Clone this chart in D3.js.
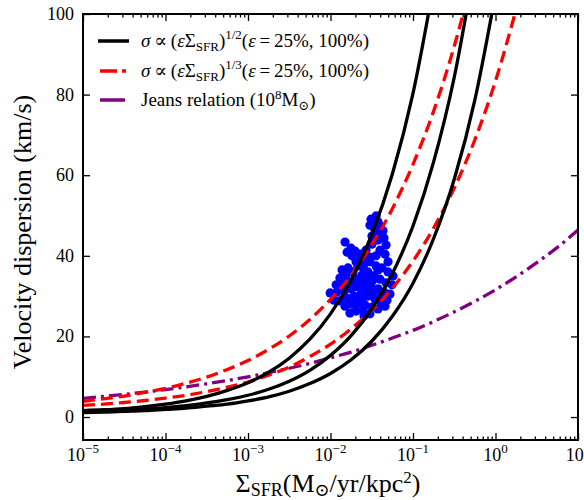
<!DOCTYPE html>
<html><head><meta charset="utf-8">
<script src="https://cdn.jsdelivr.net/npm/d3@7"></script>
<style>body{margin:0;background:#fff}svg{display:block}text{font-family:"Liberation Serif","DejaVu Serif",serif;fill:#000}</style>
</head><body><svg id="c" width="584" height="500" font-family="Liberation Serif, DejaVu Serif, serif"></svg>
<script>
// ---- data ----
const sfrGrid = [1e-5,1.778e-5,3.162e-5,5.623e-5,1e-4,1.778e-4,3.162e-4,5.623e-4,1e-3,1.778e-3,3.162e-3,5.623e-3,0.01,0.01778,0.03162,0.05623,0.1,0.1778,0.3162,0.5623,1,1.778,3.162,5.623,10];
const black1 = [1.6,1.8,2.1,2.6,3.2,4.0,5.1,6.6,8.5,11.1,14.6,19.3,25.6,34.0,45.3,60.3,80.3,107.1];
const black2 = [1.3,1.5,1.7,2.0,2.3,2.8,3.5,4.3,5.4,6.9,8.9,11.6,15.3,20.2,26.8,35.6,47.4,63.3,84.3,112.5];
const black3 = [1.1,1.2,1.4,1.6,1.9,2.2,2.7,3.2,4.0,5.0,6.4,8.3,10.8,14.2,18.8,25.0,33.2,44.3,59.0,78.7,105.0];
const red1 = [3.9,4.5,5.2,6.1,7.1,8.4,9.9,11.8,14.0,16.8,20.1,24.2,29.2,35.2,42.7,51.7,62.7,75.9,92.0,111.4];
const red2 = [2.9,3.2,3.6,4.1,4.7,5.4,6.3,7.4,8.7,10.4,12.4,15.0,18.1,21.9,26.4,32.0,38.7,46.9,56.8,68.8,83.4,101.1];
const jeans = [4.64,5.11,5.62,6.19,6.81,7.49,8.25,9.08,9.99,11.0,12.1,13.3,14.7,16.1,17.8,19.6,21.5,23.7,26.1,28.7,31.6,34.8,38.3,42.1,46.4];
const obsSFR = [0.0357,0.0310,0.0377,0.0301,0.0337,0.0398,0.0366,0.0433,0.0318,0.0150,
 0.0177,0.0159,0.0198,0.0182,0.0228,0.0269,0.0318,0.0377,0.0445,0.0471,0.0398,0.0301,0.0248,0.0357,0.0458,0.0498,0.0204,
 0.0138,0.0163,0.0130,0.0154,0.0188,0.0215,0.0255,0.0301,0.0357,0.0421,0.0498,0.0573,
 0.0117,0.0142,0.0172,0.0204,0.0241,0.0285,0.0337,0.0398,0.0471,0.0556,
 0.0099,0.0120,0.0146,0.0177,0.0215,0.0262,0.0310,0.0377,0.0445,0.0526,
 0.0110,0.0130,0.0159,0.0193,0.0234,0.0285,0.0346,0.0409,0.0484,
 0.0150,0.0182,0.0215,0.0262,0.0318,0.0377,0.0204,0.0248,0.0301,0.0172,0.0458,0.0255,
 0.0234,0.0269,0.0327,0.0198,0.0241,0.0337,0.0421,0.0285,0.0377,0.0255];
const obsSigma = [49.9,49.1,48.4,47.6,46.9,47.4,45.7,46.2,44.9,43.4,
 41.9,40.9,41.2,40.0,40.4,41.4,42.9,43.9,44.4,42.7,41.4,39.7,39.2,40.0,40.4,38.5,38.5,
 36.5,37.0,34.5,35.0,36.0,37.5,38.0,38.5,37.5,37.0,36.0,35.0,
 32.8,33.0,33.5,34.2,35.2,36.0,35.0,34.2,33.3,32.8,
 30.8,31.0,31.3,31.8,32.3,33.0,32.5,31.8,31.0,30.5,
 29.0,28.8,29.5,30.0,30.5,30.0,29.3,28.5,29.0,
 27.5,28.0,28.3,27.8,27.3,26.8,26.3,26.6,25.6,25.8,27.5,25.1,
 33.7,31.5,34.0,32.3,29.0,31.0,30.0,34.5,36.5,36.5];
const xMajor = [1e-5,1e-4,1e-3,1e-2,1e-1,1,10];
const xExponents = ["\u22125","\u22124","\u22123","\u22122","\u22121","0","1"];
const yTicks = [0,20,40,60,80,100];

// ---- layout ----
const FONT='"Liberation Serif","DejaVu Serif",serif';
const L=83,R=578,T=14,B=440;
const svg=d3.select("#c");
const x=d3.scaleLog().domain([1e-5,10]).range([L,R]);
const y=d3.scaleLinear().domain([-5.7,100]).range([B,T]);

svg.append("clipPath").attr("id","clip").append("rect").attr("x",L).attr("y",T).attr("width",R-L).attr("height",B-T);
const plot=svg.append("g").attr("clip-path","url(#clip)");

// points
plot.selectAll("circle").data(obsSFR.map((s,i)=>[s,obsSigma[i]])).enter().append("circle")
 .attr("cx",d=>x(d[0])).attr("cy",d=>y(d[1])).attr("r",4.6).attr("fill","#0000ff");

const line=d3.line().x(d=>x(d[0])).y(d=>y(d[1])).curve(d3.curveMonotoneX);
function curve(vals,color,dash){
  plot.append("path").attr("d",line(vals.map((v,i)=>[sfrGrid[i],v])))
   .attr("fill","none").attr("stroke",color).attr("stroke-width",3.3)
   .attr("stroke-dasharray",dash||null);
}
curve(jeans,"#800080","13,5,3,5");
curve(red1,"#ff0000","12,6");
curve(red2,"#ff0000","12,6");
curve(black1,"#000");
curve(black2,"#000");
curve(black3,"#000");

// axes
const minor=[];
for(let e=-5;e<1;e++) for(let k=2;k<10;k++) minor.push(k*Math.pow(10,e));
function axisG(){return svg.append("g").attr("class","ax");}
axisG().attr("transform",`translate(0,${B})`).call(d3.axisBottom(x).tickValues(xMajor).tickSize(-7).tickFormat(""));
axisG().attr("transform",`translate(0,${B})`).call(d3.axisBottom(x).tickValues(minor).tickSize(-3.5).tickFormat(""));
axisG().attr("transform",`translate(0,${T})`).call(d3.axisTop(x).tickValues(xMajor).tickSize(-7).tickFormat(""));
axisG().attr("transform",`translate(0,${T})`).call(d3.axisTop(x).tickValues(minor).tickSize(-3.5).tickFormat(""));
axisG().attr("transform",`translate(${L},0)`).call(d3.axisLeft(y).tickValues(yTicks).tickSize(-7).tickFormat(""));
axisG().attr("transform",`translate(${R},0)`).call(d3.axisRight(y).tickValues(yTicks).tickSize(-7).tickFormat(""));
svg.selectAll(".ax path.domain").remove();
svg.selectAll(".ax line").attr("stroke","#000").attr("stroke-width",1.3);
svg.append("rect").attr("x",L).attr("y",T).attr("width",R-L).attr("height",B-T).attr("fill","none").attr("stroke","#000").attr("stroke-width",2);

function txt(sel){return sel.append("text").attr("font-family",FONT).style("font-family",FONT);}
// tick labels
xMajor.forEach((v,i)=>{
  const t=txt(svg).attr("x",x(v)).attr("y",461).attr("text-anchor","middle").style("font-size","18px");
  t.append("tspan").text("10");
  t.append("tspan").attr("dy",-8).style("font-size","13px").text(xExponents[i]);
});
yTicks.forEach(v=>{
  txt(svg).attr("x",74).attr("y",y(v)+6).attr("text-anchor","end").style("font-size","18px").text(v);
});

// rich text helper
function rich(t,parts){
  let shift=0;
  parts.forEach(p=>{
    const s=t.append("tspan").text(p.t);
    let target=0;
    if(p.sub) target=p.sub; if(p.sup) target=-p.sup;
    s.attr("dy",target-shift); shift=target;
    if(p.size) s.style("font-size",p.size+"px");
    if(p.it) s.style("font-style","italic");
  });
}
// axis titles
const xt=txt(svg).attr("x",328).attr("y",492).attr("text-anchor","middle").style("font-size","26px");
rich(xt,[{t:"\u03a3"},{t:"SFR",sub:4,size:18},{t:"(M"},{t:"\u2299",sub:4,size:18},{t:"/yr/kpc"},{t:"2",sup:9,size:17},{t:")"}]);
txt(svg).attr("transform","translate(31,232) rotate(-90)").attr("text-anchor","middle").style("font-size","26px").text("Velocity dispersion (km/s)");

// legend
const lg=svg.append("g");
lg.append("line").attr("x1",98).attr("x2",129).attr("y1",41).attr("y2",41).attr("stroke","#000").attr("stroke-width",3.5);
lg.append("line").attr("x1",100).attr("x2",127).attr("y1",71).attr("y2",71).attr("stroke","#ff0000").attr("stroke-width",3.5).attr("stroke-dasharray","17,5,4,20");
lg.append("line").attr("x1",100).attr("x2",125).attr("y1",100).attr("y2",100).attr("stroke","#800080").attr("stroke-width",3.5);
function legText(yb,exp){
  const t=txt(lg).attr("x",141).attr("y",yb).style("font-size","19px");
  rich(t,[{t:"\u03c3",it:1},{t:"\u2009\u221d\u2009("},{t:"\u03b5",it:1},{t:"\u03a3"},{t:"SFR",sub:4,size:13},{t:")"},{t:exp,sup:8,size:13},{t:"("},{t:"\u03b5",it:1},{t:"\u2009=\u200925%, 100%)"}]);
}
legText(47,"1/2");
legText(77,"1/3");
const t3=txt(lg).attr("x",141).attr("y",106).style("font-size","19px");
rich(t3,[{t:"Jeans relation (10"},{t:"8",sup:7,size:13},{t:"M"},{t:"\u2299",sub:4,size:13},{t:")"}]);
</script></body></html>
